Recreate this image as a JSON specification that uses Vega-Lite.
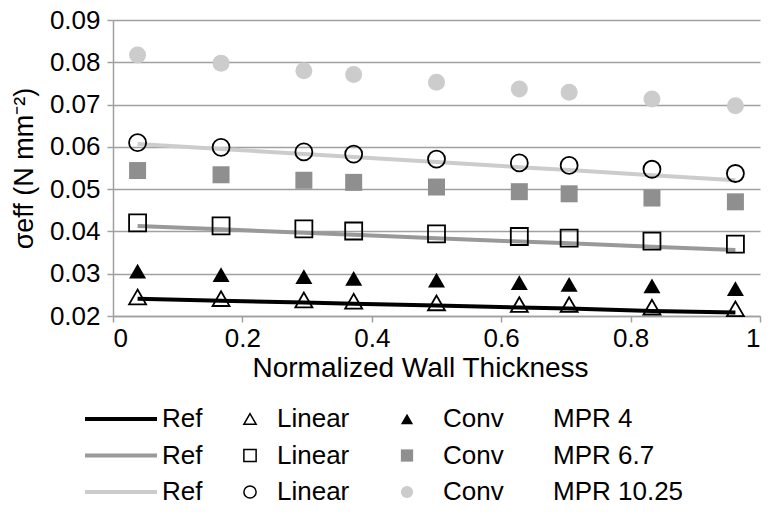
{
  "$schema": "https://vega.github.io/schema/vega-lite/v6.json",
  "width": 647,
  "height": 296,
  "autosize": "none",
  "padding": {"left": 113, "top": 20, "right": 13, "bottom": 196},
  "background": "white",
  "config": {
    "view": {"stroke": null},
    "font": "Liberation Sans",
    "axis": {
      "labelFont": "Liberation Sans",
      "labelFontSize": 26,
      "labelColor": "#000000",
      "titleFont": "Liberation Sans",
      "titleFontSize": 27,
      "titleFontWeight": "normal",
      "titleColor": "#000000",
      "domainColor": "#a0a0a0",
      "domainWidth": 1.5,
      "tickColor": "#a0a0a0",
      "tickWidth": 1.5,
      "tickSize": 6,
      "gridColor": "#a0a0a0",
      "gridWidth": 1.5
    },
    "legend": {
      "labelFont": "Liberation Sans",
      "labelFontSize": 26,
      "labelColor": "#000000",
      "orient": "none",
      "direction": "vertical",
      "padding": 0,
      "rowPadding": 10.5,
      "title": null
    }
  },
  "data": {
    "values": [
      {"x": 0.038, "mpr": "MPR 4", "ref": 0.0241, "lin": 0.0245, "conv": 0.0306},
      {"x": 0.167, "mpr": "MPR 4", "ref": 0.0236, "lin": 0.0241, "conv": 0.0298},
      {"x": 0.295, "mpr": "MPR 4", "ref": 0.0232, "lin": 0.0238, "conv": 0.0293},
      {"x": 0.372, "mpr": "MPR 4", "ref": 0.0229, "lin": 0.0235, "conv": 0.0289},
      {"x": 0.5, "mpr": "MPR 4", "ref": 0.0225, "lin": 0.0231, "conv": 0.0285},
      {"x": 0.628, "mpr": "MPR 4", "ref": 0.022, "lin": 0.0227, "conv": 0.0279},
      {"x": 0.705, "mpr": "MPR 4", "ref": 0.0218, "lin": 0.0227, "conv": 0.0275},
      {"x": 0.833, "mpr": "MPR 4", "ref": 0.0212, "lin": 0.0221, "conv": 0.0271},
      {"x": 0.962, "mpr": "MPR 4", "ref": 0.0208, "lin": 0.0217, "conv": 0.0265},
      {"x": 0.038, "mpr": "MPR 6.7", "ref": 0.0413, "lin": 0.042, "conv": 0.0544},
      {"x": 0.167, "mpr": "MPR 6.7", "ref": 0.0405, "lin": 0.0413, "conv": 0.0534},
      {"x": 0.295, "mpr": "MPR 6.7", "ref": 0.0397, "lin": 0.0406, "conv": 0.0521},
      {"x": 0.372, "mpr": "MPR 6.7", "ref": 0.0392, "lin": 0.0401, "conv": 0.0516},
      {"x": 0.5, "mpr": "MPR 6.7", "ref": 0.0384, "lin": 0.0394, "conv": 0.0505},
      {"x": 0.628, "mpr": "MPR 6.7", "ref": 0.0376, "lin": 0.0388, "conv": 0.0494},
      {"x": 0.705, "mpr": "MPR 6.7", "ref": 0.0372, "lin": 0.0384, "conv": 0.0489},
      {"x": 0.833, "mpr": "MPR 6.7", "ref": 0.0364, "lin": 0.0377, "conv": 0.0479},
      {"x": 0.962, "mpr": "MPR 6.7", "ref": 0.0356, "lin": 0.037, "conv": 0.047},
      {"x": 0.038, "mpr": "MPR 10.25", "ref": 0.0607, "lin": 0.061, "conv": 0.0817},
      {"x": 0.167, "mpr": "MPR 10.25", "ref": 0.0595, "lin": 0.0599, "conv": 0.0798},
      {"x": 0.295, "mpr": "MPR 10.25", "ref": 0.0583, "lin": 0.0588, "conv": 0.078},
      {"x": 0.372, "mpr": "MPR 10.25", "ref": 0.0576, "lin": 0.0583, "conv": 0.0771},
      {"x": 0.5, "mpr": "MPR 10.25", "ref": 0.0564, "lin": 0.0571, "conv": 0.0753},
      {"x": 0.628, "mpr": "MPR 10.25", "ref": 0.0552, "lin": 0.0562, "conv": 0.0737},
      {"x": 0.705, "mpr": "MPR 10.25", "ref": 0.0545, "lin": 0.0556, "conv": 0.0729},
      {"x": 0.833, "mpr": "MPR 10.25", "ref": 0.0533, "lin": 0.0547, "conv": 0.0713},
      {"x": 0.962, "mpr": "MPR 10.25", "ref": 0.0521, "lin": 0.0537, "conv": 0.0697}
    ]
  },
  "encoding": {
    "x": {
      "field": "x",
      "type": "quantitative",
      "scale": {"domain": [0, 1], "nice": false},
      "axis": {
        "title": "Normalized Wall Thickness",
        "titleFontSize": 28,
        "titleX": 307,
        "grid": false,
        "values": [0, 0.2, 0.4, 0.6, 0.8, 1],
        "format": "~g",
        "labelPadding": 3,
        "titlePadding": 3
      }
    }
  },
  "layer": [
    {
      "mark": {"type": "line", "strokeWidth": 4},
      "encoding": {
        "y": {
          "field": "ref",
          "type": "quantitative",
          "scale": {"domain": [0.02, 0.09], "nice": false, "zero": false},
          "axis": {"title": "σeff (N mm⁻²)", "values": [0.02, 0.03, 0.04, 0.05, 0.06, 0.07, 0.08, 0.09], "format": ".2f", "labelPadding": 7, "titlePadding": 11}
        },
        "stroke": {
          "field": "mpr",
          "type": "nominal",
          "scale": {"domain": ["MPR 4", "MPR 6.7", "MPR 10.25"], "range": ["#000000", "#999999", "#cccccc"]},
          "legend": {
            "legendX": -5,
            "legendY": 386,
            "labelExpr": "'Ref'",
            "symbolType": "M-3.6,0H3.6",
            "symbolSize": 400,
            "symbolStrokeWidth": 4,
            "labelOffset": 28
          }
        }
      }
    },
    {
      "mark": {"type": "point", "filled": false, "color": "#000000", "strokeWidth": 1.8, "size": 289, "opacity": 1},
      "encoding": {
        "y": {
          "field": "lin",
          "type": "quantitative",
          "scale": {"domain": [0.02, 0.09], "nice": false, "zero": false},
          "axis": {"title": "σeff (N mm⁻²)", "values": [0.02, 0.03, 0.04, 0.05, 0.06, 0.07, 0.08, 0.09], "format": ".2f", "labelPadding": 7, "titlePadding": 11}
        },
        "shape": {
          "field": "mpr",
          "type": "nominal",
          "scale": {"domain": ["MPR 4", "MPR 6.7", "MPR 10.25"], "range": ["triangle-up", "square", "circle"]},
          "legend": {
            "legendX": 124,
            "legendY": 386,
            "labelExpr": "'Linear'",
            "symbolSize": 150,
            "symbolStrokeWidth": 1.5,
            "symbolStrokeColor": "#000000",
            "symbolFillColor": "transparent",
            "labelOffset": 14
          }
        }
      }
    },
    {
      "mark": {"type": "point", "filled": true, "size": 289, "opacity": 1, "strokeWidth": 0},
      "encoding": {
        "y": {
          "field": "conv",
          "type": "quantitative",
          "scale": {"domain": [0.02, 0.09], "nice": false, "zero": false},
          "axis": {"title": "σeff (N mm⁻²)", "values": [0.02, 0.03, 0.04, 0.05, 0.06, 0.07, 0.08, 0.09], "format": ".2f", "labelPadding": 7, "titlePadding": 11}
        },
        "shape": {
          "field": "mpr",
          "type": "nominal",
          "scale": {"domain": ["MPR 4", "MPR 6.7", "MPR 10.25"], "range": ["triangle-up", "square", "circle"]},
          "legend": {
            "legendX": 281,
            "legendY": 386,
            "labelExpr": "'Conv'",
            "symbolSize": 150,
            "symbolStrokeWidth": 0,
            "labelOffset": 23
          }
        },
        "fill": {
          "field": "mpr",
          "type": "nominal",
          "scale": {"domain": ["MPR 4", "MPR 6.7", "MPR 10.25"], "range": ["#000000", "#8f8f8f", "#cccccc"]},
          "legend": {
            "legendX": 281,
            "legendY": 386,
            "labelExpr": "'Conv'",
            "symbolSize": 150,
            "symbolStrokeWidth": 0,
            "labelOffset": 23
          }
        }
      }
    },
    {
      "mark": {"type": "point", "filled": true, "size": 10, "opacity": 0},
      "encoding": {
        "y": {
          "field": "conv",
          "type": "quantitative",
          "scale": {"domain": [0.02, 0.09], "nice": false, "zero": false},
          "axis": {"title": "σeff (N mm⁻²)", "values": [0.02, 0.03, 0.04, 0.05, 0.06, 0.07, 0.08, 0.09], "format": ".2f", "labelPadding": 7, "titlePadding": 11}
        },
        "color": {
          "field": "mpr",
          "type": "nominal",
          "scale": {"domain": ["MPR 4", "MPR 6.7", "MPR 10.25"], "range": ["#ffffff", "#ffffff", "#ffffff"]},
          "legend": {
            "legendX": 414,
            "legendY": 386,
            "symbolSize": 1,
            "symbolOpacity": 0,
            "labelOffset": 0
          }
        }
      }
    }
  ],
  "resolve": {
    "scale": {"stroke": "independent", "shape": "independent", "fill": "independent", "color": "independent"},
    "legend": {"stroke": "independent", "shape": "independent", "fill": "independent", "color": "independent"}
  }
}
